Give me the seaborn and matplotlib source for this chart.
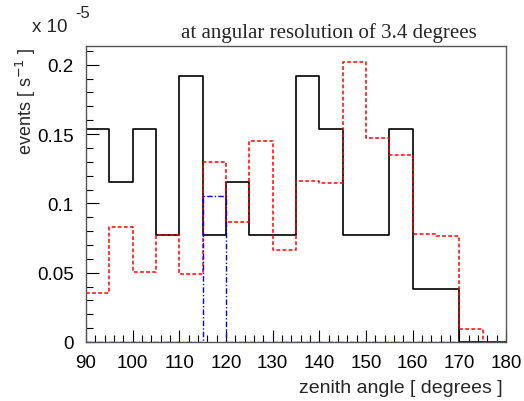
import numpy as np
import pandas as pd
import matplotlib
matplotlib.use("Agg")
import matplotlib.pyplot as plt
import seaborn as sns
from matplotlib.ticker import MultipleLocator, FixedFormatter, FixedLocator

bin_edges = [90, 95, 100, 105, 110, 115, 120, 125, 130, 135, 140, 145, 150, 155, 160, 165, 170, 175, 180]
black_vals = [0.154, 0.1155, 0.154, 0.077, 0.192, 0.077, 0.1155, 0.077, 0.077,
              0.192, 0.154, 0.077, 0.077, 0.154, 0.0385, 0.0385, 0.0, 0.0]
red_vals = [0.0355, 0.0833, 0.0505, 0.077, 0.049, 0.130, 0.0866, 0.145, 0.0664,
            0.1165, 0.1146, 0.202, 0.1475, 0.135, 0.078, 0.0765, 0.0094, 0.0]
blue_vals = [0, 0, 0, 0, 0, 0.105, 0, 0, 0, 0, 0, 0, 0, 0, 0, 0, 0, 0]
y_ticks = [0, 0.05, 0.1, 0.15, 0.2]
y_tick_labels = ["0", "0.05", "0.1", "0.15", "0.2"]
x_ticks = [90, 100, 110, 120, 130, 140, 150, 160, 170, 180]

sns.set_style("white")
plt.rcParams['font.family'] = ['Liberation Sans', 'DejaVu Sans']

centers = [(a + b) / 2 for a, b in zip(bin_edges[:-1], bin_edges[1:])]
df = pd.DataFrame({"x": centers, "black": black_vals, "red": red_vals, "blue": blue_vals})

fig = plt.figure(figsize=(5.24, 4.02), dpi=100)
ax = fig.add_axes([86/524, 59/402, 420/524, 296.5/402])

sns.histplot(data=df, x="x", weights="black", bins=bin_edges, element="step", fill=False,
             color="black", linewidth=1.2, ax=ax)
sns.histplot(data=df, x="x", weights="red", bins=bin_edges, element="step", fill=False,
             color="red", linewidth=1.1, linestyle=(0, (2.5, 1.5)), ax=ax)
sns.histplot(data=df, x="x", weights="blue", bins=bin_edges, element="step", fill=False,
             color="blue", linewidth=1.0, linestyle=(0, (4, 1.5, 1, 1.5)), ax=ax)

ax.set_xlim(90, 180)
ax.set_ylim(0, 0.2139)
ax.xaxis.set_major_locator(FixedLocator(x_ticks))
ax.xaxis.set_minor_locator(MultipleLocator(2))
ax.yaxis.set_major_locator(FixedLocator(y_ticks))
ax.yaxis.set_major_formatter(FixedFormatter(y_tick_labels))
ax.yaxis.set_minor_locator(MultipleLocator(0.01))
ax.tick_params(which="both", direction="in", bottom=True, left=True, top=False, right=False,
               labelsize=13.5, colors="black")
ax.tick_params(which="major", length=9, width=0.8)
ax.tick_params(which="minor", length=5, width=0.8)
ax.tick_params(axis="x", pad=9)
ax.tick_params(axis="y", pad=9)
for s in ax.spines.values():
    s.set_color("#555555")
    s.set_linewidth(1.0)
ax.set_xlabel("")
ax.set_ylabel("")

fig.text(503/524, 1 - 389/402, "zenith angle [ degrees ]", ha="right", va="center", fontsize=14)
fig.text(26/524, 1 - 48/402, "events [ s$^{-1}$ ]", ha="center", va="top", rotation=90, fontsize=13)
fig.text(32/524, 1 - 27/402, "x 10", ha="left", va="center", fontsize=13.5)
fig.text(75/524, 1 - 13/402, "-5", ha="left", va="center", fontsize=12)
fig.text(329/524, 1 - 33/402, "at angular resolution of 3.4 degrees", ha="center", va="center",
         fontsize=15, family=["Liberation Serif", "DejaVu Serif"])

fig.savefig("out.png", dpi=100)
